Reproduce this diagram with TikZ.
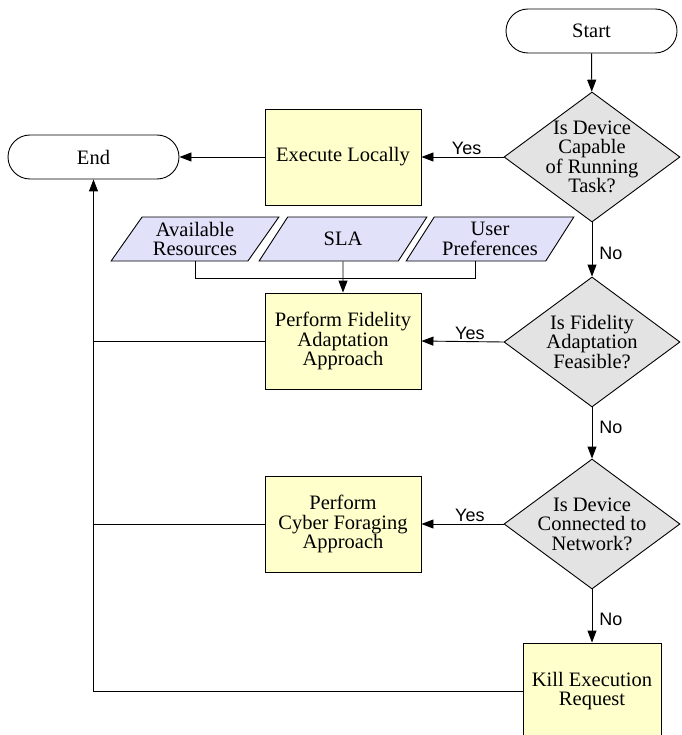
\documentclass[tikz,border=0pt]{standalone}
\usepackage{fontspec}
\setmainfont{Liberation Serif}
\newfontfamily\answerfont{Liberation Sans}
\usetikzlibrary{shapes.geometric,arrows.meta}

\definecolor{procfill}{HTML}{FFFFCC}
\definecolor{decfill}{HTML}{E3E3E3}
\definecolor{infill}{HTML}{E1E1F9}

\tikzset{
  terminal/.style={draw, rounded corners=22pt, minimum width=171pt, minimum height=44pt, inner sep=0pt},
  process/.style={draw, fill=procfill, minimum width=156pt, minimum height=96pt, align=center, inner sep=0pt},
  decision/.style={draw, diamond, fill=decfill, minimum width=176pt, minimum height=130pt, inner sep=-16pt, align=center},
  inputbox/.style={draw, trapezium, trapezium left angle=54, trapezium right angle=126, trapezium stretches=true,
    fill=infill, minimum width=168pt, minimum height=44pt, inner sep=0pt, align=center},
  flow/.style={-{Triangle[length=12pt,width=9pt]}},
  answer/.style={font=\answerfont\fontsize{18}{18}\selectfont, inner sep=1.5pt}
}

\begin{document}
\begin{tikzpicture}[x=1pt, y=-1pt, line width=0.9pt, font=\fontsize{20.5}{19.5}\selectfont]
    \useasboundingbox (0,0) rectangle (681,735);

    % terminals
    \node[terminal] (start) at (591.5,31) {Start};
    \node[terminal] (end) at (93.5,157) {End};

    % decisions on the right
    \node[decision] (capable) at (592,157) {Is Device\\Capable\\of Running\\Task?};
    \node[decision] (feasible) at (592,342) {Is Fidelity\\Adaptation\\Feasible?};
    \node[decision] (network) at (592,524) {Is Device\\Connected to\\Network?};

    % processes
    \node[process] (local) at (343,157) {Execute Locally};
    \node[process] (fidelity) at (343,341) {Perform Fidelity\\Adaptation\\Approach};
    \node[process] (foraging) at (343,524) {Perform\\Cyber Foraging\\Approach};
    \node[process, minimum width=138pt] (kill) at (592,691) {Kill Execution\\Request};

    % inputs of the fidelity adaptation
    \node[inputbox] (resources) at (195,239) {Available\\Resources};
    \node[inputbox] (sla) at (343,239) {SLA};
    \node[inputbox] (prefs) at (490,239) {User\\Preferences};
    \coordinate (merge) at (343,278);

    % main flow
    \draw[flow] (start) -- (capable);
    \draw[flow] (capable.west) -- node[answer, above, pos=0.45] {Yes} (local.east);
    \draw[flow] (local.west) -- (end.east);
    \draw[flow] (capable.south) -- node[answer, right, inner sep=7pt, pos=0.58] {No} (feasible.north);
    \draw[flow] (feasible.west) -- node[answer, above, pos=0.41] {Yes} (fidelity.east);
    \draw[flow] (feasible.south) -- node[answer, right, inner sep=7pt, pos=0.4] {No} (network.north);
    \draw[flow] (network.west) -- node[answer, above, pos=0.41] {Yes} (foraging.east);
    \draw[flow] (network.south) -- node[answer, right, inner sep=7pt, pos=0.56] {No} (kill.north);

    % inputs joined into the fidelity box
    \draw (resources.south) |- (prefs.bottom side |- merge) -- (prefs.bottom side);
    \draw[flow] (sla.south) -- (fidelity.north);

    % back to the end
    \draw[flow] (kill.west) -- (end.south |- kill.west) -- (end.south);
    \draw (fidelity.west) -- (end.south |- fidelity.west);
    \draw (foraging.west) -- (end.south |- foraging.west);
\end{tikzpicture}
\end{document}
